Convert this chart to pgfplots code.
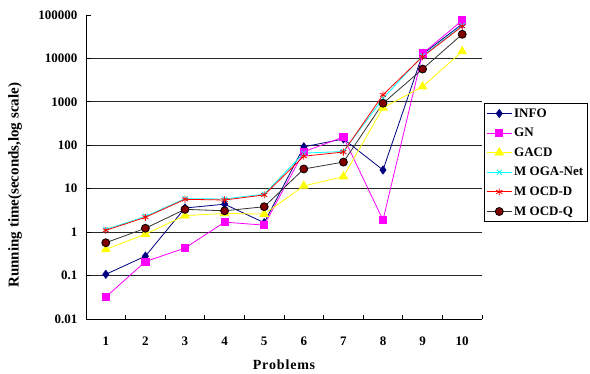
\documentclass[border=0pt]{standalone}
\usepackage{pgfplots}
\pgfplotsset{compat=1.18}
\usepackage{fontspec}
\setmainfont{Liberation Serif}
\definecolor{navyc}{HTML}{000080}
\definecolor{magc}{HTML}{FF00FF}
\definecolor{yelc}{HTML}{FFFF00}
\definecolor{cyac}{HTML}{00FFFF}
\definecolor{redc}{HTML}{FF0000}
\definecolor{marc}{HTML}{800000}
\begin{document}
\begin{tikzpicture}
\path[use as bounding box] (-86pt,-54pt) rectangle (504pt,319pt);
\begin{axis}[
  at={(0pt,0pt)}, anchor=south west,
  scale only axis, width=396pt, height=304pt,
  ymode=log, ymin=0.01, ymax=100000,
  xmin=0.5, xmax=10.5,
  axis x line*=bottom, axis y line*=left,
  axis line style={line width=0.8pt, black, -},
  xtick={1,...,10}, xticklabels={1,2,3,4,5,6,7,8,9,10},
  major x tick style={draw=none},
  minor xtick={1.5,2.5,...,10.5},
  minor x tick style={line width=0.8pt, black},
  minor tick length=4pt,
  ytick={0.01,0.1,1,10,100,1000,10000},
  yticklabels={0.01,0.1,1,10,100,1000,10000},
  extra y ticks={100000}, extra y tick labels={100000},
  extra y tick style={grid=none},
  ymajorgrids, grid style={line width=0.8pt, black!85},
  yminorticks=false,
  tick align=inside, major tick length=5pt,
  y tick style={line width=0.8pt, black},
  tick label style={font=\bfseries\fontsize{13}{15}\selectfont},
  xticklabel style={yshift=-14pt},
  yticklabel style={xshift=-5pt},
  xlabel={P\kern0.8pt r\kern0.8pt o\kern0.8pt b\kern0.8pt l\kern0.8pt e\kern0.8pt m\kern0.8pt s},
  xlabel style={font=\bfseries\fontsize{14}{16}\selectfont, at={(axis description cs:0.5,-0.152)}, anchor=center},
  ylabel={Running time(seconds,log scale)},
  ylabel style={font=\bfseries\fontsize{15}{17}\selectfont, at={(axis description cs:-0.179,0.44)}, anchor=center, rotate=0},
  legend style={at={(1.005,0.7105)}, anchor=north west, draw=black, line width=0.8pt,
    font=\bfseries\fontsize{13}{15}\selectfont, row sep=5.5pt, inner xsep=2pt, inner ysep=3pt},
  legend cell align=left,
  legend image code/.code={\draw[mark repeat=2,mark phase=2] plot coordinates {(0pt,0pt) (12.5pt,0pt) (25pt,0pt)};},
  every axis plot/.append style={line width=0.8pt},
]
\addplot[color=navyc, mark=diamond*, mark size=4pt, mark options={fill=navyc, draw=navyc}] coordinates {
(1,0.107) (2,0.28) (3,3.6) (4,4.4) (5,1.65) (6,92) (7,140) (8,27) (9,12500) (10,62000)};
\addlegendentry{INFO}
\addplot[color=magc, mark=square*, mark size=3.6pt, mark options={fill=magc, draw=magc}] coordinates {
(1,0.032) (2,0.21) (3,0.43) (4,1.7) (5,1.45) (6,71) (7,155) (8,1.9) (9,13000) (10,75000)};
\addlegendentry{GN}
\addplot[color=yelc, mark=triangle*, mark size=4.8pt, mark options={fill=yelc, draw=yelc}] coordinates {
(1,0.4) (2,0.9) (3,2.4) (4,2.7) (5,2.6) (6,11.6) (7,19) (8,730) (9,2250) (10,14500)};
\addlegendentry{GACD}
\addplot[color=cyac, mark=x, mark size=3.5pt, mark options={draw=cyac}] coordinates {
(1,1.15) (2,2.3) (3,5.9) (4,5.8) (5,7.5) (6,66) (7,72) (8,1200) (9,11500) (10,57000)};
\addlegendentry{M OGA-Net}
\addplot[color=redc, mark=asterisk, mark size=3.5pt, mark options={draw=redc}] coordinates {
(1,1.1) (2,2.2) (3,5.7) (4,5.5) (5,7.2) (6,56) (7,70) (8,1450) (9,11000) (10,55000)};
\addlegendentry{M OCD-D}
\addplot[color=black!80, mark=*, mark size=4pt, mark options={fill=marc, draw=black}] coordinates {
(1,0.57) (2,1.23) (3,3.35) (4,3.1) (5,3.85) (6,28.5) (7,41) (8,930) (9,5700) (10,36000)};
\addlegendentry{M OCD-Q}
\end{axis}
\end{tikzpicture}
\end{document}
